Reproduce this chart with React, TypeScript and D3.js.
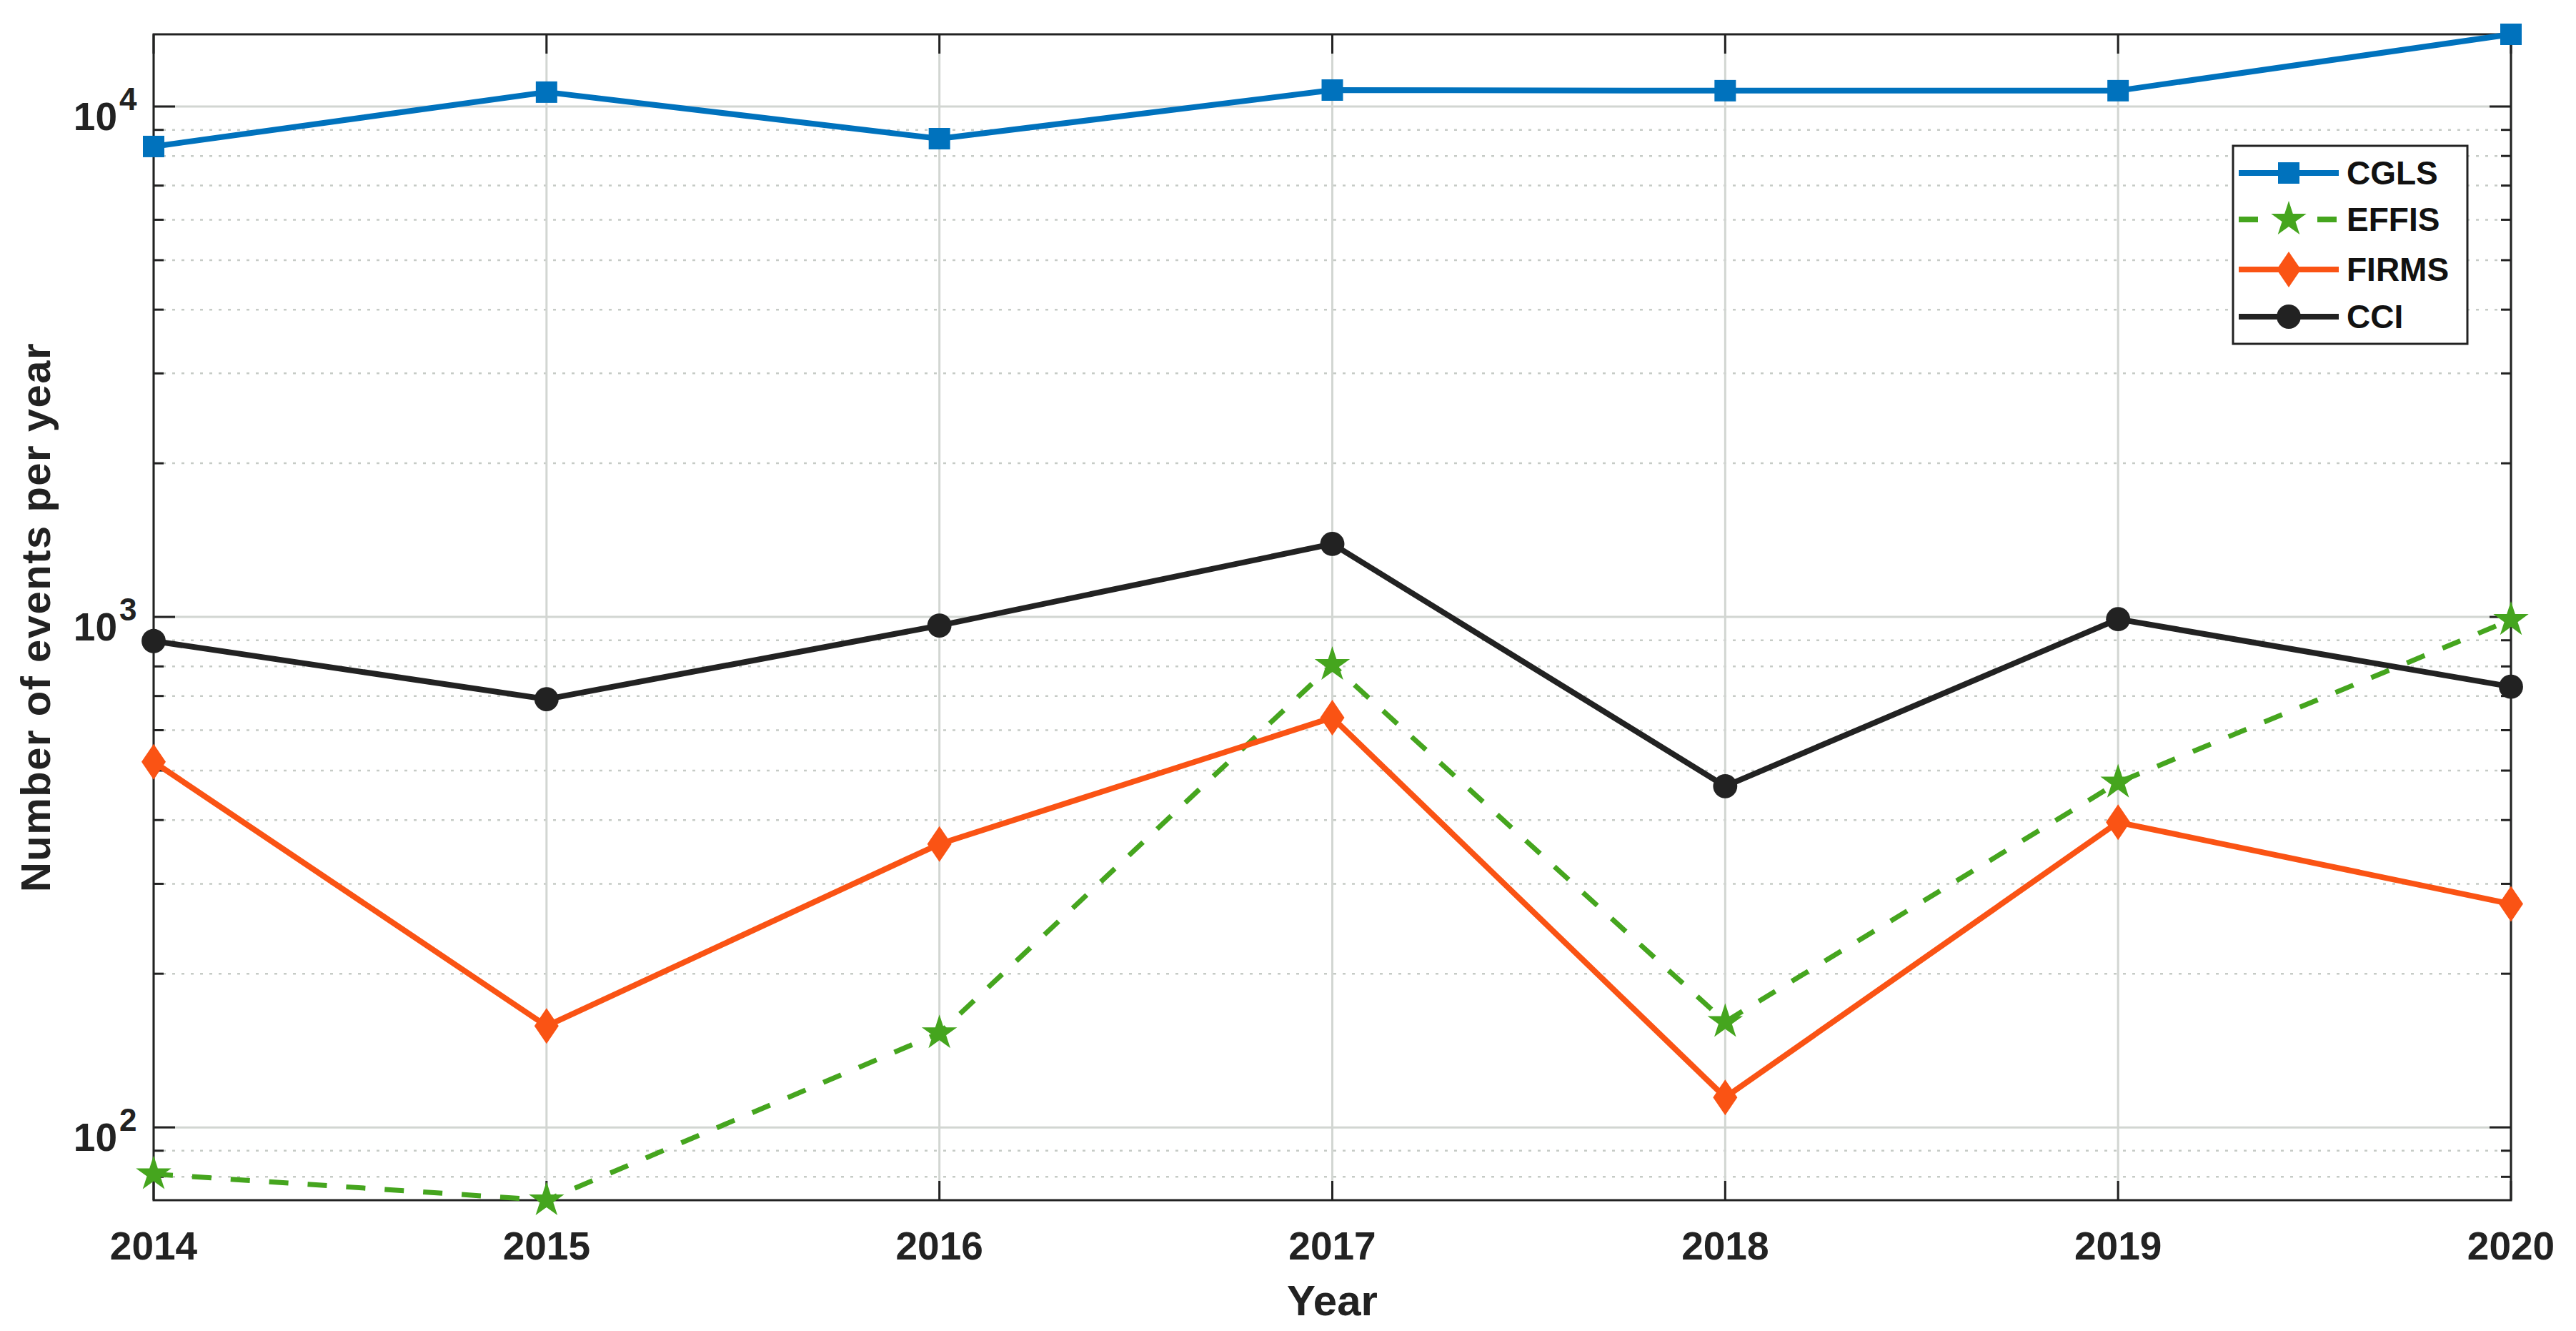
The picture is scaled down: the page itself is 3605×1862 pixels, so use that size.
import React, { useEffect, useRef } from 'react';
import * as d3 from 'd3';

// values (log scale)
const years = [2014, 2015, 2016, 2017, 2018, 2019, 2020];
const cgls = [8350, 10670, 8650, 10770, 10740, 10740, 13850];
const effis = [81, 72, 153, 806, 161, 474, 987];
const firms = [520, 158, 359, 635, 114.5, 396, 274];
const cci = [897, 690, 962, 1390, 466, 990, 730];

const seriesNames = ['CGLS', 'EFFIS', 'FIRMS', 'CCI'];
const seriesValues = [cgls, effis, firms, cci];
const seriesColors = ['#0072bd', '#45a51e', '#fa5314', '#222222'];
const seriesMarkers = ['square', 'star', 'diamond', 'circle'];

const majorTicks = [100, 1000, 10000];
const yTitle = 'Number of events per year';
const xTitle = 'Year';

const W = 3605;
const H = 1862;
const FONT = '"Liberation Sans", Arial, Helvetica, sans-serif';

const markerPath = (kind: string) => {
  if (kind === 'square') return d3.symbol(d3.symbolSquare, 900)()!;
  if (kind === 'circle') return d3.symbol(d3.symbolCircle, 900)()!;
  if (kind === 'star') return d3.symbol(d3.symbolStar, 760)()!;
  // tall diamond like matlab 'd'
  const p = d3.path();
  p.moveTo(0, -25);
  p.lineTo(17, 0);
  p.lineTo(0, 25);
  p.lineTo(-17, 0);
  p.closePath();
  return p.toString();
};

export default function App() {
  const svgRef = useRef<SVGSVGElement>(null);

  useEffect(() => {
    document.body.style.margin = '0';
    if (!svgRef.current) return;
    const svg = d3.select(svgRef.current);
    svg.selectAll('*').remove();

    const margin = { top: 48, right: W - 3514, bottom: H - 1679, left: 215 };
    const x0 = margin.left;
    const x1 = W - margin.right;
    const y0 = margin.top;
    const y1 = H - margin.bottom;

    const all = seriesValues.flat();
    const x = d3.scaleLinear().domain(d3.extent(years) as [number, number]).range([x0, x1]);
    const y = d3.scaleLog().domain(d3.extent(all) as [number, number]).range([y1, y0]);

    const [lo, hi] = y.domain();
    const minor: number[] = [];
    for (let e = Math.floor(Math.log10(lo)); e <= Math.ceil(Math.log10(hi)); e++) {
      for (let m = 2; m <= 9; m++) {
        const v = m * Math.pow(10, e);
        if (v >= lo && v <= hi) minor.push(v);
      }
    }

    const grid = svg.append('g');
    // minor grid (dotted)
    grid.selectAll('line.minor')
      .data(minor)
      .enter()
      .append('line')
      .attr('x1', x0).attr('x2', x1)
      .attr('y1', (d) => y(d)).attr('y2', (d) => y(d))
      .attr('stroke', '#c6cbc6')
      .attr('stroke-width', 2.5)
      .attr('stroke-dasharray', '4 9');
    // major grid
    grid.selectAll('line.major')
      .data(majorTicks)
      .enter()
      .append('line')
      .attr('x1', x0).attr('x2', x1)
      .attr('y1', (d) => y(d)).attr('y2', (d) => y(d))
      .attr('stroke', '#d2d6d2')
      .attr('stroke-width', 3);
    grid.selectAll('line.vert')
      .data(years)
      .enter()
      .append('line')
      .attr('x1', (d) => x(d)).attr('x2', (d) => x(d))
      .attr('y1', y0).attr('y2', y1)
      .attr('stroke', '#d2d6d2')
      .attr('stroke-width', 3);

    // ticks (inward, both sides)
    const ticks = svg.append('g').attr('stroke', '#222').attr('stroke-width', 3);
    [x0, x1].forEach((xe) => {
      const dir = xe === x0 ? 1 : -1;
      majorTicks.forEach((v) => {
        ticks.append('line').attr('x1', xe).attr('x2', xe + dir * 30).attr('y1', y(v)).attr('y2', y(v));
      });
      minor.forEach((v) => {
        ticks.append('line').attr('x1', xe).attr('x2', xe + dir * 14).attr('y1', y(v)).attr('y2', y(v));
      });
    });
    years.forEach((yr) => {
      ticks.append('line').attr('x1', x(yr)).attr('x2', x(yr)).attr('y1', y1).attr('y2', y1 - 27);
      ticks.append('line').attr('x1', x(yr)).attr('x2', x(yr)).attr('y1', y0).attr('y2', y0 + 27);
    });

    // box
    svg.append('rect')
      .attr('x', x0).attr('y', y0)
      .attr('width', x1 - x0).attr('height', y1 - y0)
      .attr('fill', 'none')
      .attr('stroke', '#222')
      .attr('stroke-width', 3);

    // y tick labels 10^k
    const yl = svg.append('g').attr('font-family', FONT).attr('font-weight', 'bold').attr('fill', '#222');
    majorTicks.forEach((v) => {
      yl.append('text')
        .attr('x', 164).attr('y', y(v) + 33)
        .attr('text-anchor', 'end')
        .attr('font-size', 55)
        .text('10');
      yl.append('text')
        .attr('x', 167).attr('y', y(v) + 5)
        .attr('font-size', 44)
        .text(String(Math.round(Math.log10(v))));
    });

    // x tick labels
    svg.append('g')
      .selectAll('text')
      .data(years)
      .enter()
      .append('text')
      .attr('x', (d) => x(d))
      .attr('y', 1762)
      .attr('text-anchor', 'middle')
      .attr('font-family', FONT)
      .attr('font-weight', 'bold')
      .attr('font-size', 55)
      .attr('fill', '#222')
      .text((d) => String(d));

    // axis titles
    svg.append('text')
      .attr('transform', `translate(70,${(y0 + y1) / 2}) rotate(-90)`)
      .attr('text-anchor', 'middle')
      .attr('font-family', FONT)
      .attr('font-weight', 'bold')
      .attr('font-size', 58)
      .attr('letter-spacing', 1.5)
      .attr('fill', '#222')
      .text(yTitle);
    svg.append('text')
      .attr('x', (x0 + x1) / 2)
      .attr('y', 1840)
      .attr('text-anchor', 'middle')
      .attr('font-family', FONT)
      .attr('font-weight', 'bold')
      .attr('font-size', 60)
      .attr('fill', '#222')
      .text(xTitle);

    // series
    const line = d3.line<number>()
      .x((_, i) => x(years[i]))
      .y((d) => y(d));

    seriesValues.forEach((vals, si) => {
      const g = svg.append('g');
      g.append('path')
        .attr('d', line(vals)!)
        .attr('fill', 'none')
        .attr('stroke', seriesColors[si])
        .attr('stroke-width', seriesNames[si] === 'EFFIS' ? 7 : 8)
        .attr('stroke-linejoin', 'round')
        .attr('stroke-dasharray', seriesNames[si] === 'EFFIS' ? '27 27' : null);
      g.selectAll('path.marker')
        .data(vals)
        .enter()
        .append('path')
        .attr('class', 'marker')
        .attr('d', markerPath(seriesMarkers[si]))
        .attr('transform', (d, i) => `translate(${x(years[i])},${y(d)})`)
        .attr('fill', seriesColors[si]);
    });

    // legend
    const lg = svg.append('g');
    lg.append('rect')
      .attr('x', 3125).attr('y', 204)
      .attr('width', 328).attr('height', 277)
      .attr('fill', '#fff')
      .attr('stroke', '#222')
      .attr('stroke-width', 3);
    const rowY = [242, 307, 377, 443];
    seriesNames.forEach((name, si) => {
      const ry = rowY[si];
      lg.append('line')
        .attr('x1', 3133).attr('x2', 3273)
        .attr('y1', ry).attr('y2', ry)
        .attr('stroke', seriesColors[si])
        .attr('stroke-width', 8)
        .attr('stroke-dasharray', name === 'EFFIS' ? '27 83' : null);
      lg.append('path')
        .attr('d', markerPath(seriesMarkers[si]))
        .attr('transform', `translate(3203,${ry})`)
        .attr('fill', seriesColors[si]);
      lg.append('text')
        .attr('x', 3284)
        .attr('y', ry + 16)
        .attr('font-family', FONT)
        .attr('font-weight', 'bold')
        .attr('font-size', 46)
        .attr('fill', '#111')
        .text(name);
    });
  }, []);

  return (
    <div style={{ width: W, height: H, background: '#fff' }}>
      <svg ref={svgRef} width={W} height={H} style={{ display: 'block', background: '#fff' }} />
    </div>
  );
}
